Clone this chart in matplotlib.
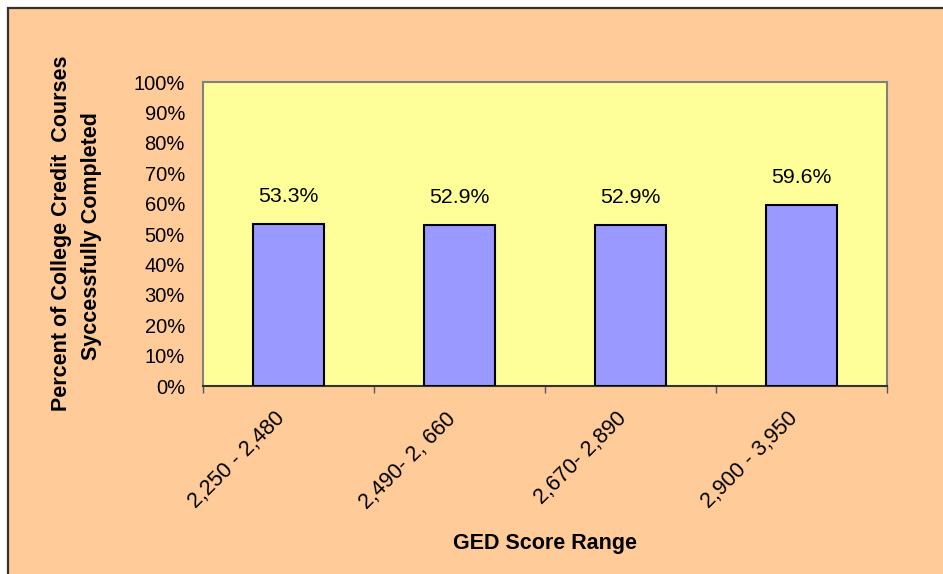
import matplotlib
matplotlib.use("Agg")
import matplotlib.pyplot as plt
from matplotlib.patches import Rectangle
from matplotlib.ticker import FixedLocator, PercentFormatter
from matplotlib.transforms import ScaledTranslation

categories = ["2,250 - 2,480", "2,490- 2, 660", "2,670- 2,890", "2,900 - 3,950"]
values = [53.3, 52.9, 52.9, 59.6]
labels = ["53.3%", "52.9%", "52.9%", "59.6%"]
yticks = [0, 10, 20, 30, 40, 50, 60, 70, 80, 90, 100]

plt.rcParams['font.family'] = ['Liberation Sans', 'DejaVu Sans']

W, H = 943, 574
fig = plt.figure(figsize=(W / 100, H / 100), dpi=100)
fig.patch.set_facecolor('white')

# outer chart area (peach) with dark border on left/top
bg = Rectangle((8 / W, -0.1), 2, 1.1 - 8 / H, transform=fig.transFigure,
               facecolor='#FFCC99', edgecolor='#333333', linewidth=1.6,
               zorder=-10)
fig.patches.append(bg)

left, right, top, bottom = 203, 887, 82, 386
ax = fig.add_axes([left / W, 1 - bottom / H, (right - left) / W, (bottom - top) / H])
ax.set_facecolor('#FFFF99')

x = list(range(len(categories)))
bars = ax.bar(x, values, width=0.41, color='#9999FF', edgecolor='black', linewidth=1.5, zorder=3)
for xi, v, lab in zip(x, values, labels):
    ax.annotate(lab, (xi, v), xytext=(0, 20), textcoords='offset points',
                ha='center', va='center', fontsize=15.3, color='black')

ax.set_xlim(-0.5, len(categories) - 0.5)
ax.set_ylim(0, 100)
ax.yaxis.set_major_locator(FixedLocator(yticks))
ax.yaxis.set_major_formatter(PercentFormatter(decimals=0))
ax.tick_params(axis='y', length=0, pad=13, labelsize=14.5)

ax.set_xticks(x)
ax.set_xticklabels(categories, rotation=45, ha='right', va='top', rotation_mode='anchor', fontsize=15.5)
ax.tick_params(axis='x', which='major', length=0, pad=16)
shift = ScaledTranslation(-14 / 100, 0, fig.dpi_scale_trans)
for t in ax.get_xticklabels():
    t.set_transform(t.get_transform() + shift)
ax.set_xticks([i - 0.5 for i in range(len(categories) + 1)], minor=True)
ax.tick_params(axis='x', which='minor', length=5, width=1, color='#555555', direction='out')

for s in ['left', 'top', 'right']:
    ax.spines[s].set_color('#808080')
    ax.spines[s].set_linewidth(1.5)
ax.spines['bottom'].set_color('#333333')
ax.spines['bottom'].set_linewidth(1.5)

fig.text(545 / W, 1 - 543 / H, "GED Score Range", ha='center', va='center',
         fontsize=15.5, fontweight='bold')
fig.text(62 / W, 1 - 233 / H, "Percent of College Credit  Courses", ha='center', va='center',
         rotation=90, fontsize=15.5, fontweight='bold')
fig.text(92 / W, 1 - 236 / H, "Syccessfully Completed", ha='center', va='center',
         rotation=90, fontsize=15.5, fontweight='bold')

fig.savefig("out.png", dpi=100, facecolor=fig.get_facecolor())
